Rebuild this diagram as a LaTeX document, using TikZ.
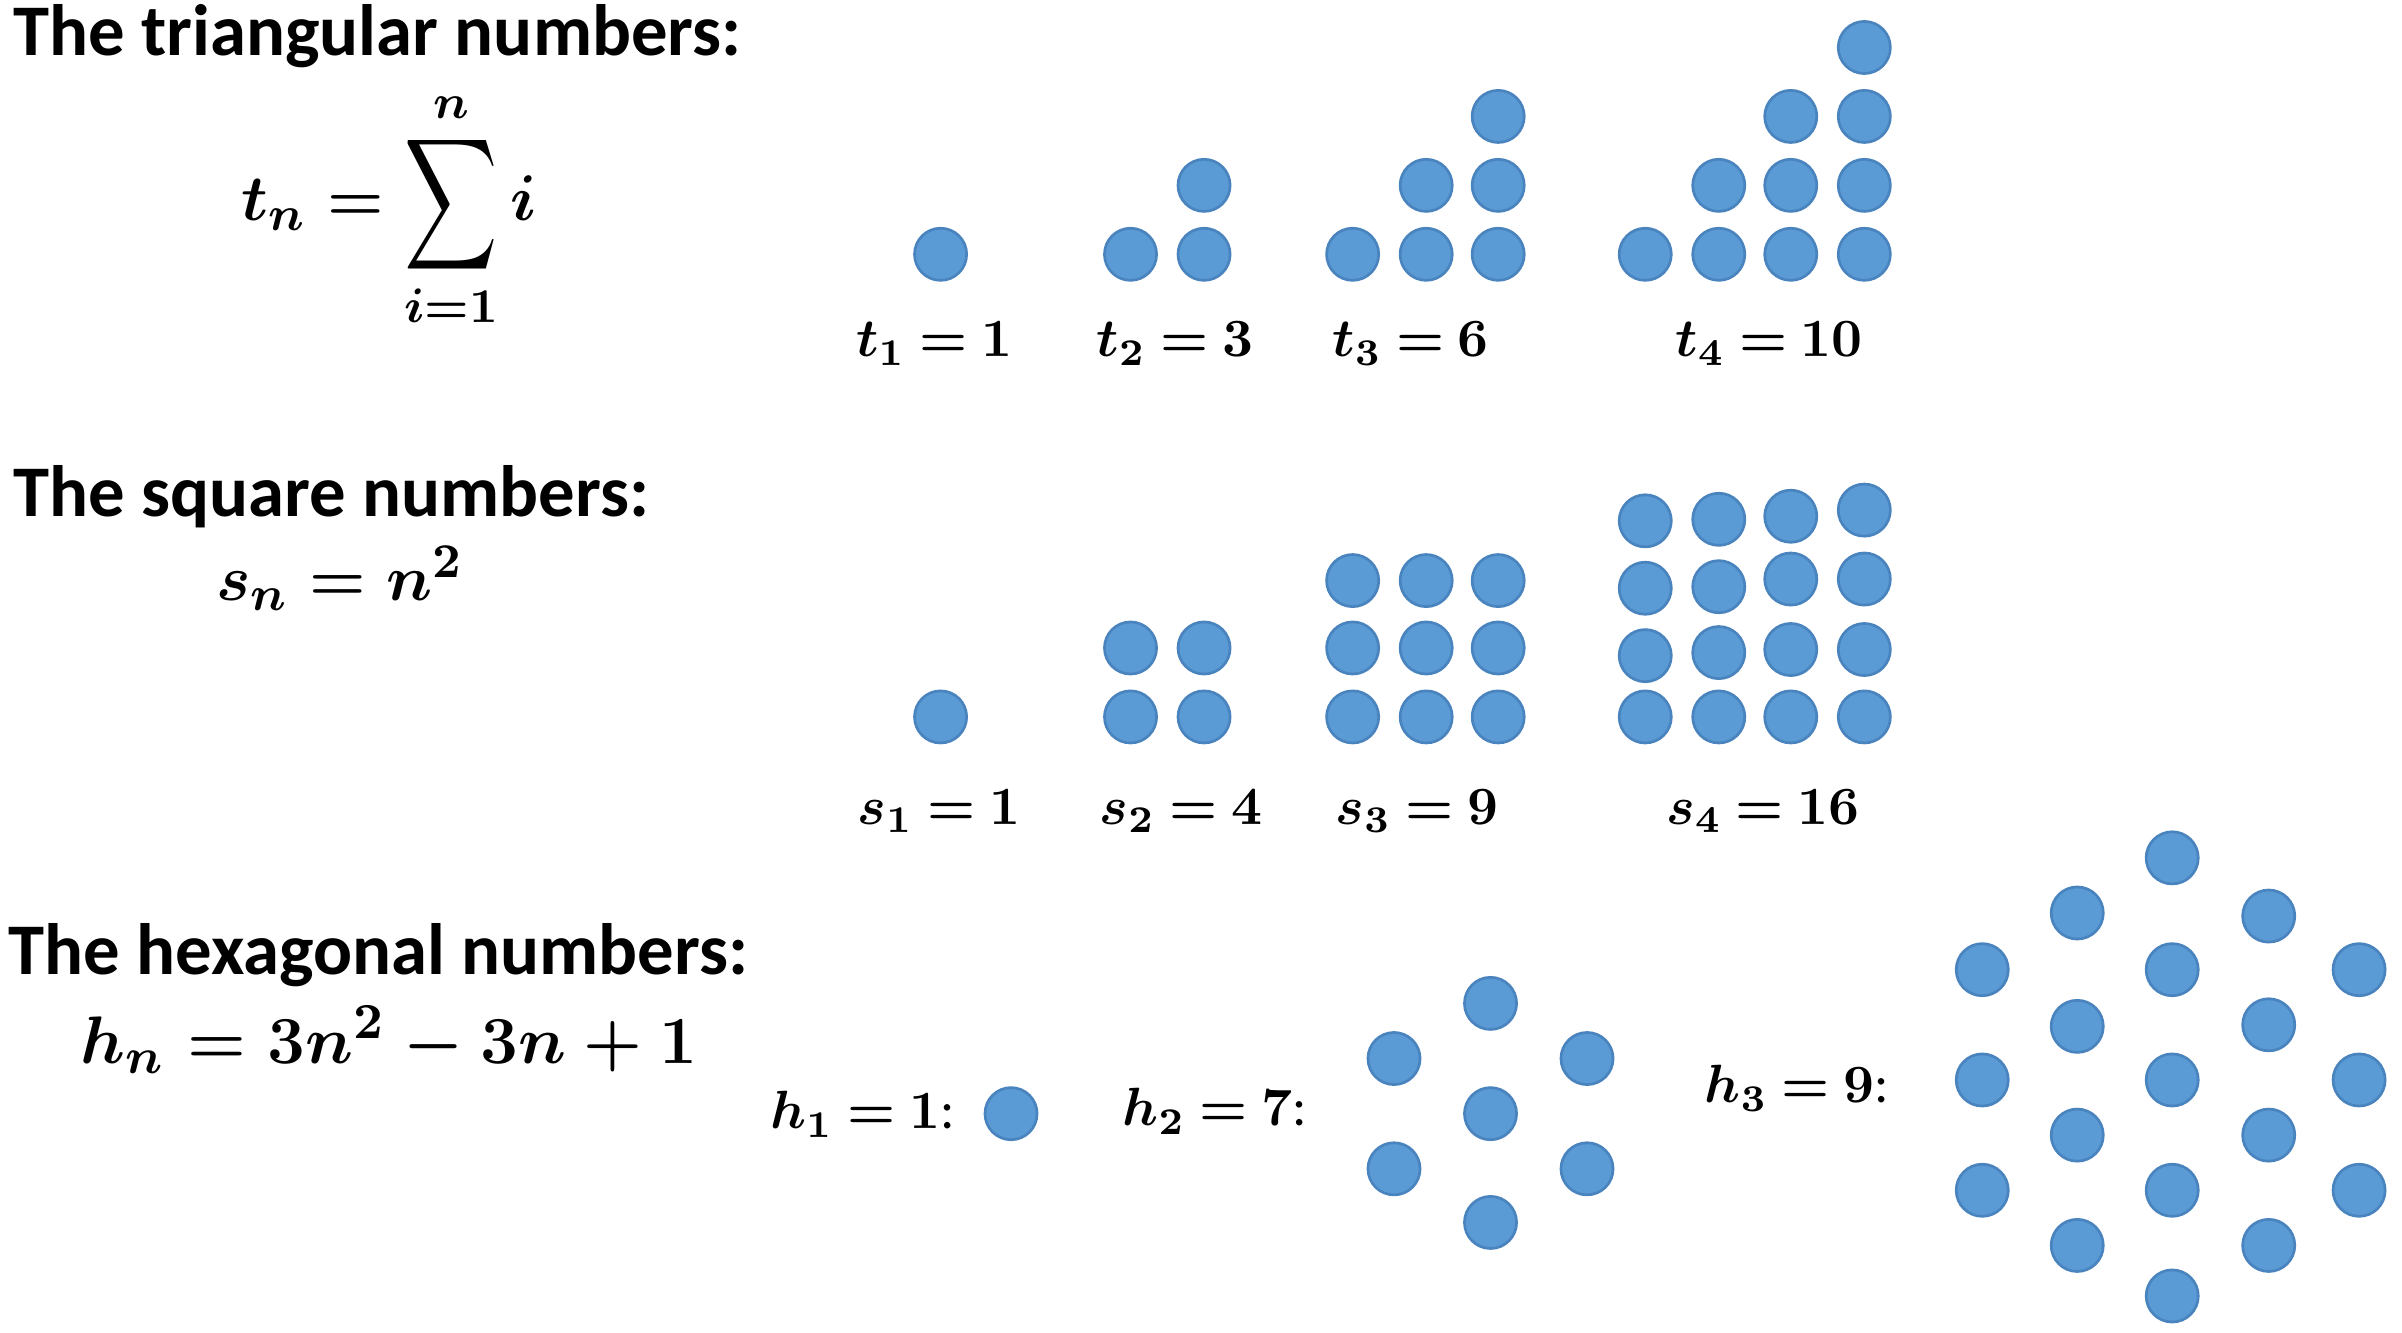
\documentclass[tikz,border=0pt]{standalone}
\usepackage{amsmath}
\usepackage{fontspec}
\setsansfont{Carlito}
\usetikzlibrary{shapes.geometric}
\definecolor{dotblue}{HTML}{5B9BD5}
\definecolor{dotedge}{HTML}{4A84BE}
\newcommand{\bigsum}{\mathop{\vcenter{\hbox{\scalebox{1.0}[1.42]{$\displaystyle\sum$}}}}\limits}
\newcommand{\lbm}[1]{$\thickmuskip=4mu\relax #1$}
\begin{document}
\begin{tikzpicture}[x=0.01cm,y=-0.01cm,
  dot/.style={circle, fill=dotblue, draw=dotedge, line width=0.5pt, minimum size=0.34cm, inner sep=0pt},
  title/.style={anchor=base west, inner sep=0pt, font=\sffamily\bfseries\fontsize{13.5}{15}\selectfont},
  fml/.style={anchor=base, inner sep=0pt, font=\fontsize{13}{15}\selectfont\boldmath},
  lab/.style={anchor=base, inner sep=0pt, font=\fontsize{10}{12}\selectfont\boldmath}]
\fill[white] (0,0) rectangle (1568,870);
\useasboundingbox (0,0) rectangle (1568,870);

% ---------- triangular ----------
\node[title] (tt) at (8,36) {The triangular numbers:};
\node[fml] (ft) at (254,144) {$\displaystyle t_n=\bigsum_{i=1}^{n} i$};
\node[dot] (t1-1) at (614,166) {};
\foreach \x/\y [count=\k] in {738/166,786/166,786/121}
  \node[dot] (t2-\k) at (\x,\y) {};
\foreach \x/\y [count=\k] in {883/166,931/166,978/166,931/121,978/121,978/76}
  \node[dot] (t3-\k) at (\x,\y) {};
\foreach \x/\y [count=\k] in {1074/166,1122/166,1169/166,1217/166,1122/121,1169/121,1217/121,1169/76,1217/76,1217/31}
  \node[dot] (t4-\k) at (\x,\y) {};
\node[lab] (lt1) at (610,233) {\lbm{t_1=1}};
\node[lab] (lt2) at (767,233) {\lbm{t_2=3}};
\node[lab] (lt3) at (921,233) {\lbm{t_3=6}};
\node[lab] (lt4) at (1155,233) {\lbm{t_4=10}};

% ---------- square ----------
\node[title] (ts) at (8,337) {The square numbers:};
\node[fml] (fs) at (222,392) {$s_n=n^2$};
\node[dot] (s1-1) at (614,468) {};
\foreach \x/\y [count=\k] in {738/468,786/468,738/423,786/423}
  \node[dot] (s2-\k) at (\x,\y) {};
\foreach \x/\y [count=\k] in {883/468,931/468,978/468,883/423,931/423,978/423,883/379,931/379,978/379}
  \node[dot] (s3-\k) at (\x,\y) {};
\foreach \x/\y [count=\k] in {1074/468,1122/468,1169/468,1217/468,
                              1074/428,1122/426,1169/424,1217/424,
                              1074/384,1122/383,1169/378,1217/378,
                              1074/340,1122/339,1169/337,1217/333}
  \node[dot] (s4-\k) at (\x,\y) {};
\node[lab] (ls1) at (613,538) {\lbm{s_1=1}};
\node[lab] (ls2) at (771,538) {\lbm{s_2=4}};
\node[lab] (ls3) at (925,538) {\lbm{s_3=9}};
\node[lab] (ls4) at (1151,538) {\lbm{s_4=16}};

% ---------- hexagonal ----------
\node[title] (th) at (5,636) {The hexagonal numbers:};
\node[fml] (fh) at (254,694) {\scalebox{1.04}{$h_n=3n^2-3n+1$}};
\node[lab] (lh1) at (563,737) {\lbm{h_1=1}{\sffamily\mdseries :}};
\node[dot] (h1-1) at (660,727) {};
\node[lab] (lh2) at (793,735) {\lbm{h_2=7}{\sffamily\mdseries :}};
\foreach \x/\y [count=\k] in {973/655,910/691,1036/691,973/727,910/763,1036/763,973/798}
  \node[dot] (h2-\k) at (\x,\y) {};
\node[lab] (lh3) at (1173,720) {\lbm{h_3=9}{\sffamily\mdseries :}};
\foreach \x/\y [count=\k] in {1294/633,1294/705,1294/777,
                              1356/596,1356/670,1356/741,1356/813,
                              1418/560,1418/633,1418/705,1418/777,1418/846,
                              1481/598,1481/669,1481/741,1481/813,
                              1540/633,1540/705,1540/777}
  \node[dot] (h3-\k) at (\x,\y) {};
\end{tikzpicture}
\end{document}
